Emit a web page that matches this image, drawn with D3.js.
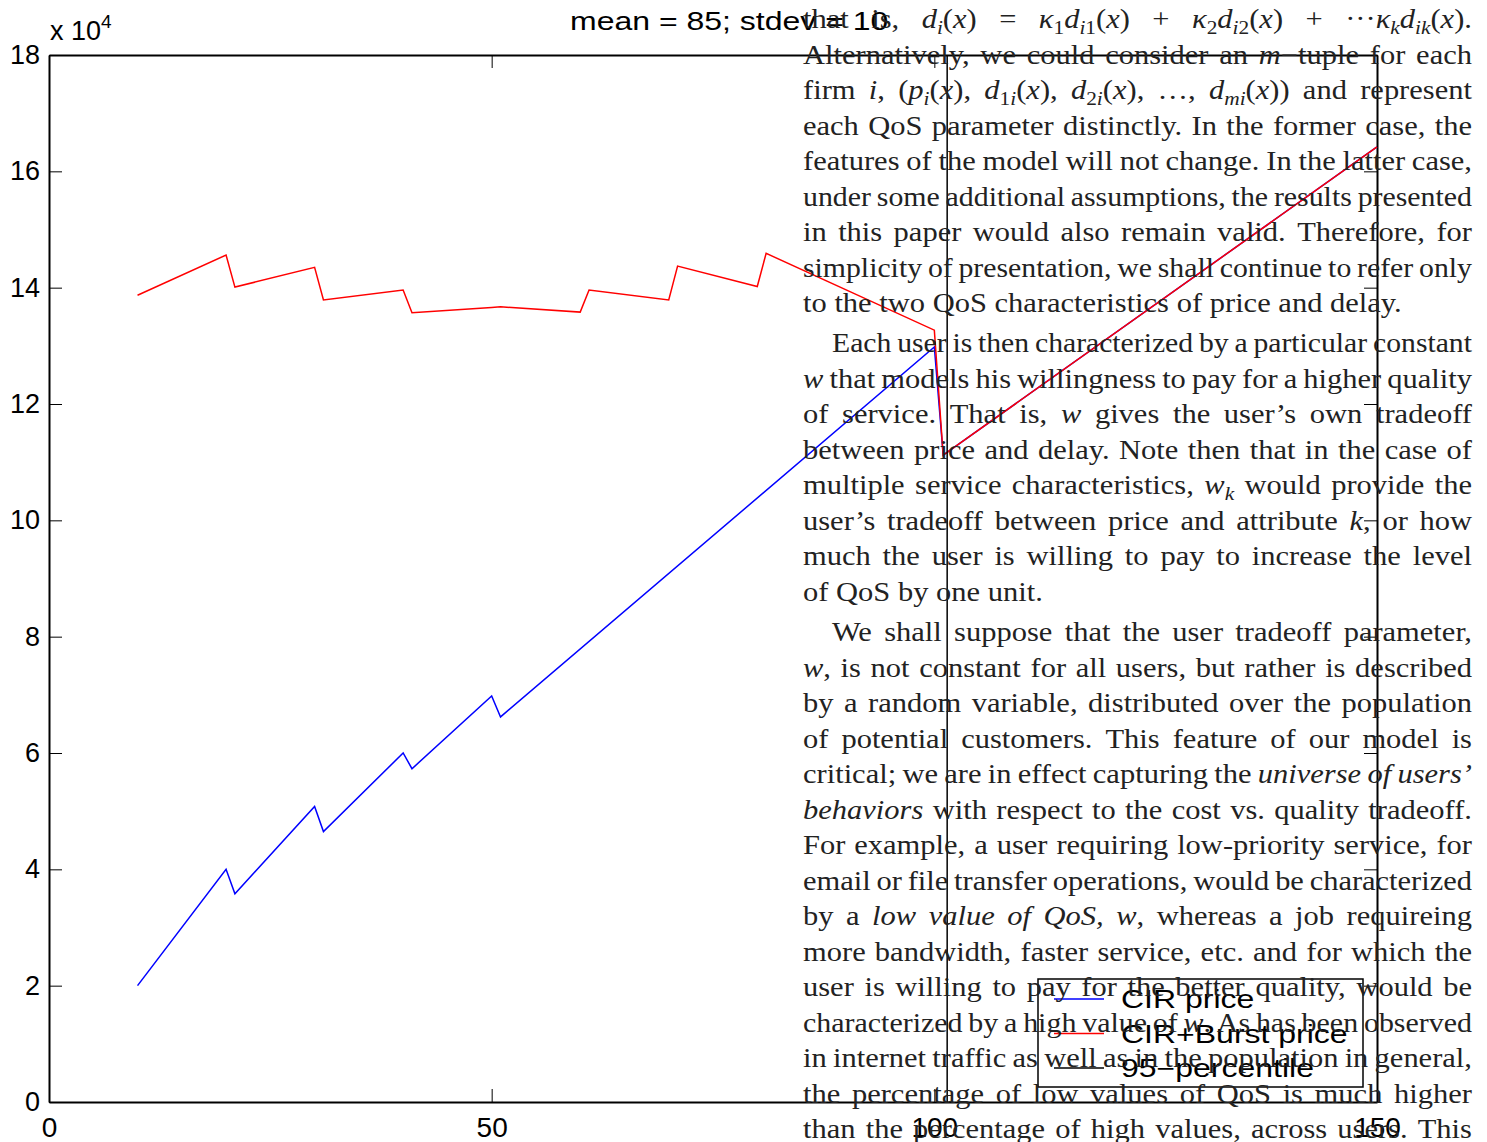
<!DOCTYPE html>
<html>
<head>
<meta charset="utf-8">
<script src="https://cdn.jsdelivr.net/npm/d3@7"></script>
<style>
  html, body { margin: 0; padding: 0; background: #fff; }
  svg { display: block; }
</style>
</head>
<body>
<script>
// ---- data -------------------------------------------------------------
const cirX = [10, 20, 21, 30, 31, 40, 41, 50, 51, 100, 101, 150];
const cirPrice = [20000, 40000, 35800, 50800, 46500, 60000, 57300, 69800, 66200, 129800, 111200, 164200];

const burstX = [10, 20, 21, 30, 31, 40, 41, 50, 51, 60, 61, 70, 71, 80, 81, 100, 101, 150];
const burstPrice = [138700, 145600, 140100, 143500, 137900, 139600, 135700, 136600, 136700, 135800,
                    139600, 137900, 143700, 140200, 145900, 132700, 111200, 164200];

const meanW = 85, stdevW = 10;
const percentile95 = 101.45;           // mean + 1.645 * stdev

const xTicks = [0, 50, 100, 150];
const yTicks = [0, 20000, 40000, 60000, 80000, 100000, 120000, 140000, 160000, 180000];
const legendLabels = ["CIR price", "CIR+Burst price", "95\u2212percentile"];
const legendColors = ["#0000ff", "#ff0000", "#000000"];
const titleText = `mean = ${meanW}; stdev = ${stdevW}`;

// ---- column of body text set over the figure ---------------------------
const paragraphs = [
  { indent: false, lastJustified: false, lines: [
    "that is, $d_i(x)$ $=$ $κ_1d_{i1}(x)$ $+$ $κ_2d_{i2}(x)$ $+$ $···κ_kd_{ik}(x).$",
    "Alternatively, we could consider an $m−$tuple for each",
    "firm $i$, $(p_i(x),$ $d_{1i}(x),$ $d_{2i}(x),$ $…,$ $d_{mi}(x))$ and represent",
    "each QoS parameter distinctly. In the former case, the",
    "features of the model will not change. In the latter case,",
    "under some additional assumptions, the results presented",
    "in this paper would also remain valid. Therefore, for",
    "simplicity of presentation, we shall continue to refer only",
    "to the two QoS characteristics of price and delay."
  ]},
  { indent: true, lastJustified: false, lines: [
    "Each user is then characterized by a particular constant",
    "$w$ that models his willingness to pay for a higher quality",
    "of service. That is, $w$ gives the user’s own tradeoff",
    "between price and delay. Note then that in the case of",
    "multiple service characteristics, $w_k$ would provide the",
    "user’s tradeoff between price and attribute $k$, or how",
    "much the user is willing to pay to increase the level",
    "of QoS by one unit."
  ]},
  { indent: true, lastJustified: true, lines: [
    "We shall suppose that the user tradeoff parameter,",
    "$w$, is not constant for all users, but rather is described",
    "by a random variable, distributed over the population",
    "of potential customers. This feature of our model is",
    "critical; we are in effect capturing the *universe* *of* *users’*",
    "*behaviors* with respect to the cost vs. quality tradeoff.",
    "For example, a user requiring low-priority service, for",
    "email or file transfer operations, would be characterized",
    "by a *low* *value* *of* *QoS,* $w$, whereas a job requireing",
    "more bandwidth, faster service, etc. and for which the",
    "user is willing to pay for the better quality, would be",
    "characterized by a high value of $w$. As has been observed",
    "in internet traffic as well as in the population in general,",
    "the percentage of low values of QoS is much higher",
    "than the percentage of high values, across users. This"
  ]}
];
const paragraphTops = [28, 352, 641];

// ---- layout ------------------------------------------------------------
const W = 1487, H = 1142;
const plot = { left: 49, right: 1377, top: 55, bottom: 1102 };
const SANS = "'Liberation Sans', Arial, Helvetica, sans-serif";
const SERIF = "'Liberation Serif', 'Times New Roman', serif";

const svg = d3.select("body").append("svg")
  .attr("width", W).attr("height", H)
  .attr("viewBox", `0 0 ${W} ${H}`);

const x = d3.scaleLinear().domain([0, 150]).range([plot.left, plot.right]);
const y = d3.scaleLinear().domain([0, 180000]).range([plot.bottom, plot.top]);

// axes: ticks point inward on all four sides
function styleAxis(g, size) {
  g.selectAll("path.domain").attr("stroke", "#000").attr("stroke-width", 2);
  g.selectAll(".tick line").attr("stroke", "#000").attr("stroke-width", 1);
  g.selectAll("text").attr("font-family", SANS).attr("font-size", size).attr("fill", "#000");
}

svg.append("g")
  .attr("transform", `translate(0,${plot.bottom})`)
  .call(d3.axisBottom(x).tickValues(xTicks).tickSizeInner(-13).tickSizeOuter(0).tickPadding(15)
    .tickFormat(d3.format("d")))
  .call(g => styleAxis(g, 28));

svg.append("g")
  .attr("transform", `translate(0,${plot.top})`)
  .call(d3.axisTop(x).tickValues(xTicks).tickSizeInner(-13).tickSizeOuter(0).tickFormat(""))
  .call(g => styleAxis(g, 28));

svg.append("g")
  .attr("transform", `translate(${plot.left},0)`)
  .call(d3.axisLeft(y).tickValues(yTicks).tickSizeInner(-13).tickSizeOuter(0).tickPadding(9)
    .tickFormat(d => d3.format("d")(d / 1e4)))
  .call(g => styleAxis(g, 27));

svg.append("g")
  .attr("transform", `translate(${plot.right},0)`)
  .call(d3.axisRight(y).tickValues(yTicks).tickSizeInner(-13).tickSizeOuter(0).tickFormat(""))
  .call(g => styleAxis(g, 27));

// exponent label
const expo = svg.append("text")
  .attr("x", 50).attr("y", 40)
  .attr("font-family", SANS).attr("font-size", 27).attr("fill", "#000");
expo.append("tspan").text("x 10");
expo.append("tspan").attr("dy", -12).attr("font-size", 19).text("4");

// title (horizontally stretched Helvetica, as exported)
svg.append("g")
  .attr("transform", `translate(570,30) scale(1.28,1)`)
  .append("text")
  .attr("font-family", SANS).attr("font-size", 25).attr("fill", "#000")
  .text(titleText);

// series
const line = d3.line().x(d => x(d[0])).y(d => y(d[1]));
svg.append("path")
  .datum(d3.zip(cirX, cirPrice))
  .attr("d", line).attr("fill", "none")
  .attr("stroke", legendColors[0]).attr("stroke-width", 1.5);
svg.append("path")
  .datum(d3.zip(burstX, burstPrice))
  .attr("d", line).attr("fill", "none")
  .attr("stroke", legendColors[1]).attr("stroke-width", 1.5);
svg.append("line")
  .attr("x1", x(percentile95)).attr("x2", x(percentile95))
  .attr("y1", y(0)).attr("y2", y(180000))
  .attr("stroke", legendColors[2]).attr("stroke-width", 1.5);

// legend
const leg = svg.append("g");
leg.append("rect")
  .attr("x", 1038).attr("y", 979).attr("width", 325).attr("height", 108)
  .attr("fill", "none").attr("stroke", "#000").attr("stroke-width", 1.5);
legendLabels.forEach((lab, i) => {
  const ly = 999 + i * 34.5;
  leg.append("line")
    .attr("x1", 1054).attr("x2", 1104).attr("y1", ly).attr("y2", ly)
    .attr("stroke", legendColors[i]).attr("stroke-width", 1.5);
  leg.append("g")
    .attr("transform", `translate(1121,${ly + 9}) scale(1.28,1)`)
    .append("text")
    .attr("font-family", SANS).attr("font-size", 25).attr("fill", "#000")
    .text(lab);
});

// ---- justified text column ----------------------------------------------
const FS = 27, SX = 1.13, LEAD = 35.5;
const colLeft = 803, colRight = 1472, indentW = 29;
const minGap = FS * 0.19 * SX;

function parseWord(w) {
  const runs = [];
  let math = false, ital = false, i = 0;
  while (i < w.length) {
    const c = w[i];
    if (c === "$") { math = !math; i++; continue; }
    if (c === "*") { ital = !ital; i++; continue; }
    if (c === "_" && math) {
      let sub;
      if (w[i + 1] === "{") { const j = w.indexOf("}", i); sub = w.slice(i + 2, j); i = j + 1; }
      else { sub = w[i + 1]; i += 2; }
      for (const ch of sub) runs.push({ t: ch, it: /[A-Za-z]/.test(ch), sub: true });
      continue;
    }
    runs.push({ t: c, it: math ? /[A-Za-zκ]/.test(c) : ital, sub: false });
    i++;
  }
  const merged = [];
  runs.forEach(r => {
    const last = merged[merged.length - 1];
    if (last && last.it === r.it && last.sub === r.sub) last.t += r.t;
    else merged.push({ ...r });
  });
  return merged;
}

const textLayer = svg.append("g").attr("fill", "#222");

paragraphs.forEach((para, pi) => {
  para.lines.forEach((ln, li) => {
    const base = paragraphTops[pi] + li * LEAD;
    const start = colLeft + (para.indent && li === 0 ? indentW : 0);
    const avail = colRight - start;
    const words = ln.split(" ");
    const groups = words.map(wd => {
      const g = textLayer.append("g");
      const t = g.append("text")
        .attr("font-family", SERIF).attr("font-size", FS);
      let off = 0;
      parseWord(wd).forEach(r => {
        const target = r.sub ? FS * 0.22 : 0;
        t.append("tspan")
          .attr("font-style", r.it ? "italic" : "normal")
          .attr("font-size", r.sub ? FS * 0.7 : FS)
          .attr("dy", target - off)
          .text(r.t);
        off = target;
      });
      return { g, w: t.node().getComputedTextLength() * SX };
    });
    const n = groups.length;
    let total = d3.sum(groups, d => d.w);
    const isLast = li === n - 1 && false;
    const lastLine = li === para.lines.length - 1;
    const justify = !lastLine || para.lastJustified;
    // squeeze a line whose words would not fit with a minimal interword space
    let sx = SX;
    if (justify && n > 1 && total + minGap * (n - 1) > avail) {
      const k = (avail - minGap * (n - 1)) / total;
      sx = SX * k;
      groups.forEach(gr => gr.w *= k);
      total *= k;
    }
    const gap = justify && n > 1 ? (avail - total) / (n - 1) : FS * 0.25 * SX;
    let cx = start;
    groups.forEach(gr => {
      gr.g.attr("transform", `translate(${cx},${base}) scale(${sx},1)`);
      cx += gr.w + gap;
    });
  });
});
</script>
</body>
</html>
